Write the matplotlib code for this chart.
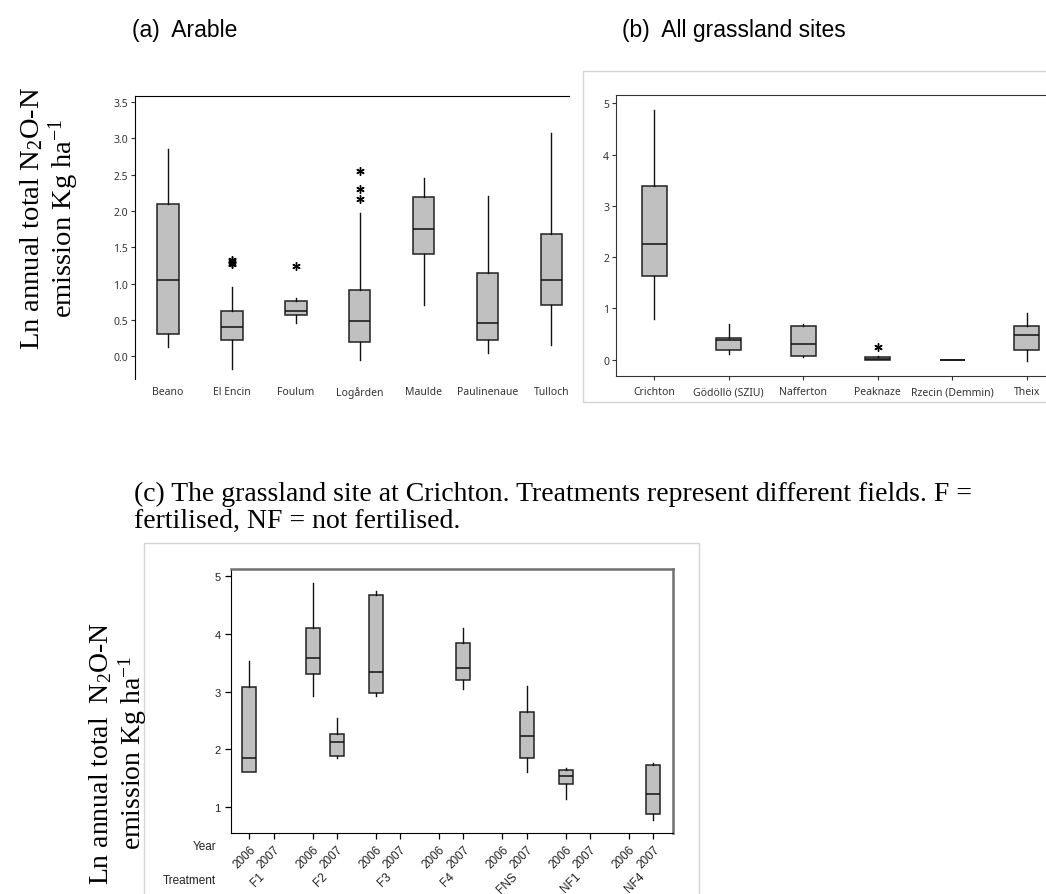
import matplotlib
matplotlib.use('Agg')
import matplotlib.pyplot as plt
from matplotlib.patches import Rectangle

plt.rcParams['mathtext.fontset'] = 'custom'
plt.rcParams['mathtext.rm'] = 'Liberation Serif'
plt.rcParams['mathtext.it'] = 'Liberation Serif:italic'

# (a) arable sites
arable_sites = ['Beano', 'El Encin', 'Foulum', 'Logården', 'Maulde', 'Paulinenaue', 'Tulloch']
arable_lo = [0.13, -0.18, 0.46, -0.05, 0.71, 0.04, 0.16]
arable_q1 = [0.30, 0.22, 0.565, 0.19, 1.41, 0.22, 0.70]
arable_med = [1.05, 0.41, 0.63, 0.49, 1.76, 0.46, 1.05]
arable_q3 = [2.10, 0.62, 0.76, 0.91, 2.20, 1.15, 1.68]
arable_hi = [2.85, 0.96, 0.80, 1.97, 2.46, 2.21, 3.07]
arable_out = [[], [1.27, 1.29, 1.31, 1.32], [1.24], [2.16, 2.30, 2.55], [], [], []]

# (b) grassland sites
grass_sites = ['Crichton', 'Gödöllö (SZIU)', 'Nafferton', 'Peaknaze', 'Rzecin (Demmin)', 'Theix']
grass_lo = [0.80, 0.10, 0.06, 0.0, 0.0, -0.03]
grass_q1 = [1.64, 0.19, 0.065, 0.0, 0.0, 0.19]
grass_med = [2.26, 0.38, 0.30, 0.02, 0.0, 0.48]
grass_q3 = [3.38, 0.43, 0.655, 0.055, 0.0, 0.65]
grass_hi = [4.88, 0.70, 0.70, 0.07, 0.0, 0.90]
grass_out = [[], [], [], [0.25], [], []]

# (c) Crichton fields by year
treatments = ['F1', 'F2', 'F3', 'F4', 'FNS', 'NF1', 'NF4']
years = ['2006', '2007']
cr_treat = ['F1', 'F2', 'F2', 'F3', 'F4', 'FNS', 'NF1', 'NF4']
cr_year = ['2006', '2006', '2007', '2006', '2007', '2007', '2006', '2007']
cr_lo = [1.61, 2.93, 1.86, 2.93, 3.04, 1.615, 1.15, 0.785]
cr_q1 = [1.615, 3.30, 1.88, 2.98, 3.20, 1.86, 1.40, 0.88]
cr_med = [1.86, 3.58, 2.12, 3.33, 3.40, 2.24, 1.545, 1.23]
cr_q3 = [3.08, 4.10, 2.27, 4.67, 3.83, 2.65, 1.65, 1.725]
cr_hi = [3.52, 4.87, 2.54, 4.735, 4.09, 3.10, 1.68, 1.765]

W, H = 1046, 895
fig = plt.figure(figsize=(W / 100, H / 100), dpi=100)


def px_axes(l, t, r, b):
    return fig.add_axes([l / W, 1 - b / H, (r - l) / W, (b - t) / H])


def make_stats(lo, q1, med, q3, hi, out=None):
    stats = []
    for i in range(len(med)):
        stats.append({'whislo': lo[i], 'q1': q1[i], 'med': med[i], 'q3': q3[i],
                      'whishi': hi[i], 'fliers': out[i] if out else []})
    return stats


box_kw = dict(patch_artist=True, showcaps=False,
              boxprops=dict(facecolor='#c0c0c0', edgecolor='#222222', linewidth=1.1),
              medianprops=dict(color='#111111', linewidth=1.1),
              whiskerprops=dict(color='#111111', linewidth=1.0),
              flierprops=dict(marker=(6, 2, 0), markersize=6, markeredgecolor='k',
                              markeredgewidth=1.0, linestyle='none'))

tick_font = dict(family='Noto Sans', size=7.5, color='#333333')
narrow = ['Liberation Sans Narrow', 'Liberation Sans']

# ---- panel (a)
ax1 = px_axes(135, 97.3, 569, 380)
ax1.bxp(make_stats(arable_lo, arable_q1, arable_med, arable_q3, arable_hi, arable_out),
        positions=range(1, 8), widths=0.336, **box_kw)
ax1.set_xlim(0.484, 7.274)
ax1.set_ylim(-0.313, 3.581)
ax1.set_yticks([0, 0.5, 1.0, 1.5, 2.0, 2.5, 3.0, 3.5])
ax1.set_yticklabels(['0.0', '0.5', '1.0', '1.5', '2.0', '2.5', '3.0', '3.5'], **tick_font)
ax1.set_xticks(range(1, 8))
ax1.set_xticklabels(arable_sites, **tick_font)
ax1.tick_params(axis='x', length=0, pad=5)
ax1.tick_params(axis='y', length=3, width=0.8, color='#333333', pad=2)
ax1.spines['bottom'].set_visible(False)
ax1.spines['right'].set_visible(False)

# ---- panel (b)
fig.patches.append(Rectangle((583 / W, 1 - 403 / H), 1, (403 - 72) / H,
                             transform=fig.transFigure, fill=False,
                             edgecolor='#d4d4d4', linewidth=1.0))
ax2 = px_axes(616, 95.7, 1046, 377.3)
ax2.bxp(make_stats(grass_lo, grass_q1, grass_med, grass_q3, grass_hi, grass_out),
        positions=range(1, 7), widths=0.336, **box_kw)
ax2.set_xlim(0.485, 6.26)
ax2.set_ylim(-0.326, 5.169)
ax2.set_yticks([0, 1, 2, 3, 4, 5])
ax2.set_yticklabels(['0', '1', '2', '3', '4', '5'], **tick_font)
ax2.set_xticks(range(1, 7))
ax2.set_xticklabels(grass_sites, **tick_font)
ax2.tick_params(axis='both', length=3, width=0.8, color='#333333', pad=2)
ax2.tick_params(axis='x', pad=4)
ax2.spines['right'].set_visible(False)
for s in ['left', 'bottom', 'top']:
    ax2.spines[s].set_color('#333333')

# ---- panel (c)
fig.patches.append(Rectangle((144 / W, -0.1), (699 - 144) / W, 0.1 + 1 - 544 / H,
                             transform=fig.transFigure, fill=False,
                             edgecolor='#d4d4d4', linewidth=1.0))
ax3 = px_axes(230.5, 570, 672.6, 834.3)
cr_pos = [treatments.index(t) * 2.6 + years.index(y) for t, y in zip(cr_treat, cr_year)]
ax3.bxp(make_stats(cr_lo, cr_q1, cr_med, cr_q3, cr_hi),
        positions=cr_pos, widths=0.576, **box_kw)
ax3.set_xlim(-0.77, 17.39)
ax3.set_ylim(0.551, 5.116)
ax3.set_yticks([1, 2, 3, 4, 5])
ax3.set_yticklabels(['1', '2', '3', '4', '5'], family=narrow, size=8, color='#222222')
all_pos = [g * 2.6 + j for g in range(len(treatments)) for j in range(len(years))]
ax3.set_xticks(all_pos)
ax3.set_xticklabels(years * len(treatments), family=narrow, size=8.5, color='#222222',
                    rotation=45, ha='right', rotation_mode='anchor')
ax3.tick_params(axis='both', length=4, width=0.9, pad=3)
for s in ['top', 'right']:
    ax3.spines[s].set_color('#707070')
    ax3.spines[s].set_linewidth(1.8)
for g, t in enumerate(treatments):
    ax3.text(g * 2.6 + 0.55, -0.155, t, transform=ax3.get_xaxis_transform(),
             rotation=45, ha='right', va='center', rotation_mode='anchor',
             family=narrow, size=8.5, color='#222222')
fig.text(216 / W, 1 - 847 / H, 'Year', ha='right', va='center',
         family=narrow, size=8.5, color='#222222')
fig.text(216 / W, 1 - 881 / H, 'Treatment', ha='right', va='center',
         family=narrow, size=8.5, color='#222222')

# ---- titles and axis labels
fig.text(132 / W, 1 - 31 / H, '(a)  Arable', family='Liberation Sans', size=16.5, va='center')
fig.text(622 / W, 1 - 31 / H, '(b)  All grassland sites', family='Liberation Sans',
         size=16.5, va='center')
fig.text(134 / W, 1 - 482 / H,
         '(c) The grassland site at Crichton. Treatments represent different fields. F =\n'
         'fertilised, NF = not fertilised.',
         family='Liberation Serif', size=20, va='top', linespacing=1.1)

ylab = 'Ln annual total N$_2$O-N\nemission Kg ha$^{-1}$'
fig.text(50 / W, 1 - 218 / H, ylab, rotation=90, ha='center', va='center',
         multialignment='center', family='Liberation Serif', size=20.5, linespacing=1.05)
fig.text(118 / W, 1 - 753 / H, 'Ln annual total  N$_2$O-N\nemission Kg ha$^{-1}$',
         rotation=90, ha='center', va='center', multialignment='center',
         family='Liberation Serif', size=20, linespacing=1.1)

fig.savefig('out.png', dpi=100)
